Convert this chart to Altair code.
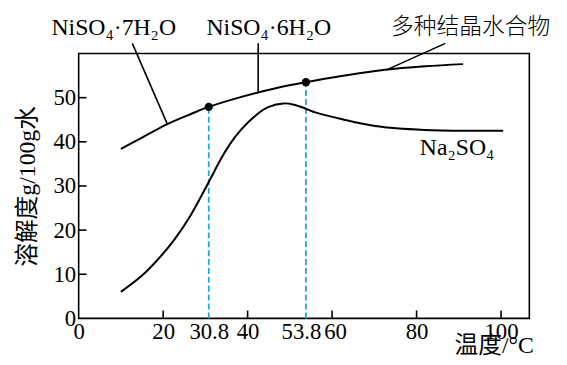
import altair as alt
import pandas as pd

# ---- data ----
x_label_values = [0, 20, 30.8, 40, 53.8, 60, 80, 100]
x_tick_marks = [20, 40, 60, 80, 100]
y_label_values = [0, 10, 20, 30, 40, 50]
y_tick_marks = [10, 20, 30, 40, 50]

niso4_t = [10, 14.9, 21, 26.6, 30.8, 37.5, 46.9, 53.8, 63, 72.5, 82, 91]
niso4_s = [38.4, 40.9, 44.0, 46.3, 47.9, 49.9, 52.2, 53.5, 55.0, 56.3, 57.1, 57.6]

na2so4_t = [10, 15, 18.8, 22.7, 26.6, 29.7, 31.3, 33.6, 35.9, 38.3, 42.2, 45, 48.5,
            51, 53.8, 56.2, 62.4, 70.2, 81.9, 93.6, 100.5]
na2so4_s = [6.0, 9.7, 13.4, 17.9, 23.5, 28.9, 31.8, 36.0, 39.6, 42.6, 46.2, 47.9, 48.7,
            48.4, 47.5, 46.6, 45.1, 43.6, 42.7, 42.5, 42.5]

transition_t = [30.8, 53.8]
transition_s = [47.9, 53.5]

pointer_x = [12.7, 42.5, 86.8]
pointer_y = [62.3, 62.3, 62.3]
pointer_x2 = [21.0, 42.5, 72.9]
pointer_y2 = [44.0, 51.0, 56.3]

latin_labels = ["NiSO₄·7H₂O", "NiSO₄·6H₂O", "Na₂SO₄"]
latin_x = [8.3, 45.0, 89.6]
latin_y = [64.2, 64.2, 36.9]

cjk_labels = ["多种结晶水合物"]
cjk_x = [92.8]
cjk_y = [64.4]

SERIF = "Liberation Serif"
CJK = "Noto Sans CJK SC"
MIX = "Liberation Serif, Noto Sans CJK SC"

xs = alt.Scale(domain=[0, 106.7], nice=False, zero=False)
ys = alt.Scale(domain=[0, 60], nice=False, zero=False)

df_ni = pd.DataFrame({"t": niso4_t, "s": niso4_s})
df_na = pd.DataFrame({"t": na2so4_t, "s": na2so4_s})
df_tr = pd.DataFrame({"t": transition_t, "s": transition_s, "base": [0, 0]})
df_ptr = pd.DataFrame({"x": pointer_x, "y": pointer_y, "x2": pointer_x2, "y2": pointer_y2})
df_lat = pd.DataFrame({"text": latin_labels, "x": latin_x, "y": latin_y})
df_cjk = pd.DataFrame({"text": cjk_labels, "x": cjk_x, "y": cjk_y})
df_xt = pd.DataFrame({"t": x_tick_marks})
df_yt = pd.DataFrame({"s": y_tick_marks})

x_axis = alt.Axis(
    values=x_label_values, labelExpr="'' + datum.value", title="温度/°C", tickSize=0,
    labelPadding=2,
    labelFont=SERIF, labelFontSize=23, labelColor="black", labelOverlap=False,
    labelFlush=False,
    labelOffset={"condition": [{"test": "datum.value == 53.8", "value": -5},
                               {"test": "datum.value == 60", "value": 3}], "value": 0},
    titleFont=MIX, titleFontSize=24, titleFontWeight="normal", titleColor="black",
    titleX=460, titleAlign="right", titleY=35, titleBaseline="alphabetic",
)
y_axis = alt.Axis(
    values=y_label_values, labelExpr="'' + datum.value", title="溶解度g/100g水", tickSize=0,
    labelPadding=3,
    labelFont=SERIF, labelFontSize=23, labelColor="black",
    titleFont=MIX, titleFontSize=24, titleFontWeight="normal", titleColor="black",
    titlePadding=14,
)


def X(f):
    return alt.X(f, scale=xs, axis=x_axis)


def Y(f):
    return alt.Y(f, scale=ys, axis=y_axis)


dashed = alt.Chart(df_tr).mark_rule(color="#1CA7E6", strokeWidth=1.8, strokeDash=[6, 3]).encode(
    x=X("t:Q"), y=Y("base:Q"), y2="s:Q",
)
ni_line = alt.Chart(df_ni).mark_line(color="black", strokeWidth=2, interpolate="catmull-rom").encode(
    x=X("t:Q"), y=Y("s:Q")
)
na_line = alt.Chart(df_na).mark_line(color="black", strokeWidth=2, interpolate="catmull-rom").encode(
    x=X("t:Q"), y=Y("s:Q")
)
pts = alt.Chart(df_tr).mark_circle(color="black", opacity=1, size=70).encode(
    x=X("t:Q"), y=Y("s:Q")
)
ptr = alt.Chart(df_ptr).mark_rule(color="black", strokeWidth=1.6).encode(
    x=X("x:Q"), y=Y("y:Q"), x2="x2:Q", y2="y2:Q",
)
xticks = alt.Chart(df_xt).mark_rule(color="black", strokeWidth=1.6).encode(
    x=X("t:Q"), y=alt.value(268), y2=alt.value(260)
)
yticks = alt.Chart(df_yt).mark_rule(color="black", strokeWidth=1.6).encode(
    y=Y("s:Q"), x=alt.value(0), x2=alt.value(8)
)
lat_text = alt.Chart(df_lat).mark_text(font=SERIF, fontSize=24, color="black",
                                        align="center", baseline="alphabetic").encode(
    x=X("x:Q"), y=Y("y:Q"), text="text:N"
)
cjk_text = alt.Chart(df_cjk).mark_text(font=CJK, fontSize=23, fontWeight=300, color="black",
                                        align="center", baseline="alphabetic").encode(
    x=X("x:Q"), y=Y("y:Q"), text="text:N"
)

chart = alt.layer(dashed, ni_line, na_line, pts, ptr, xticks, yticks, lat_text, cjk_text).properties(
    width=456, height=268,
    autosize=alt.AutoSizeParams(type="none"),
    padding={"left": 71.5, "top": 44, "right": 30, "bottom": 37},
).configure_view(stroke="black", strokeWidth=1.6).configure_axis(grid=False, domain=False)

chart.save("out.html", embed_options={"renderer": "svg", "actions": False})
